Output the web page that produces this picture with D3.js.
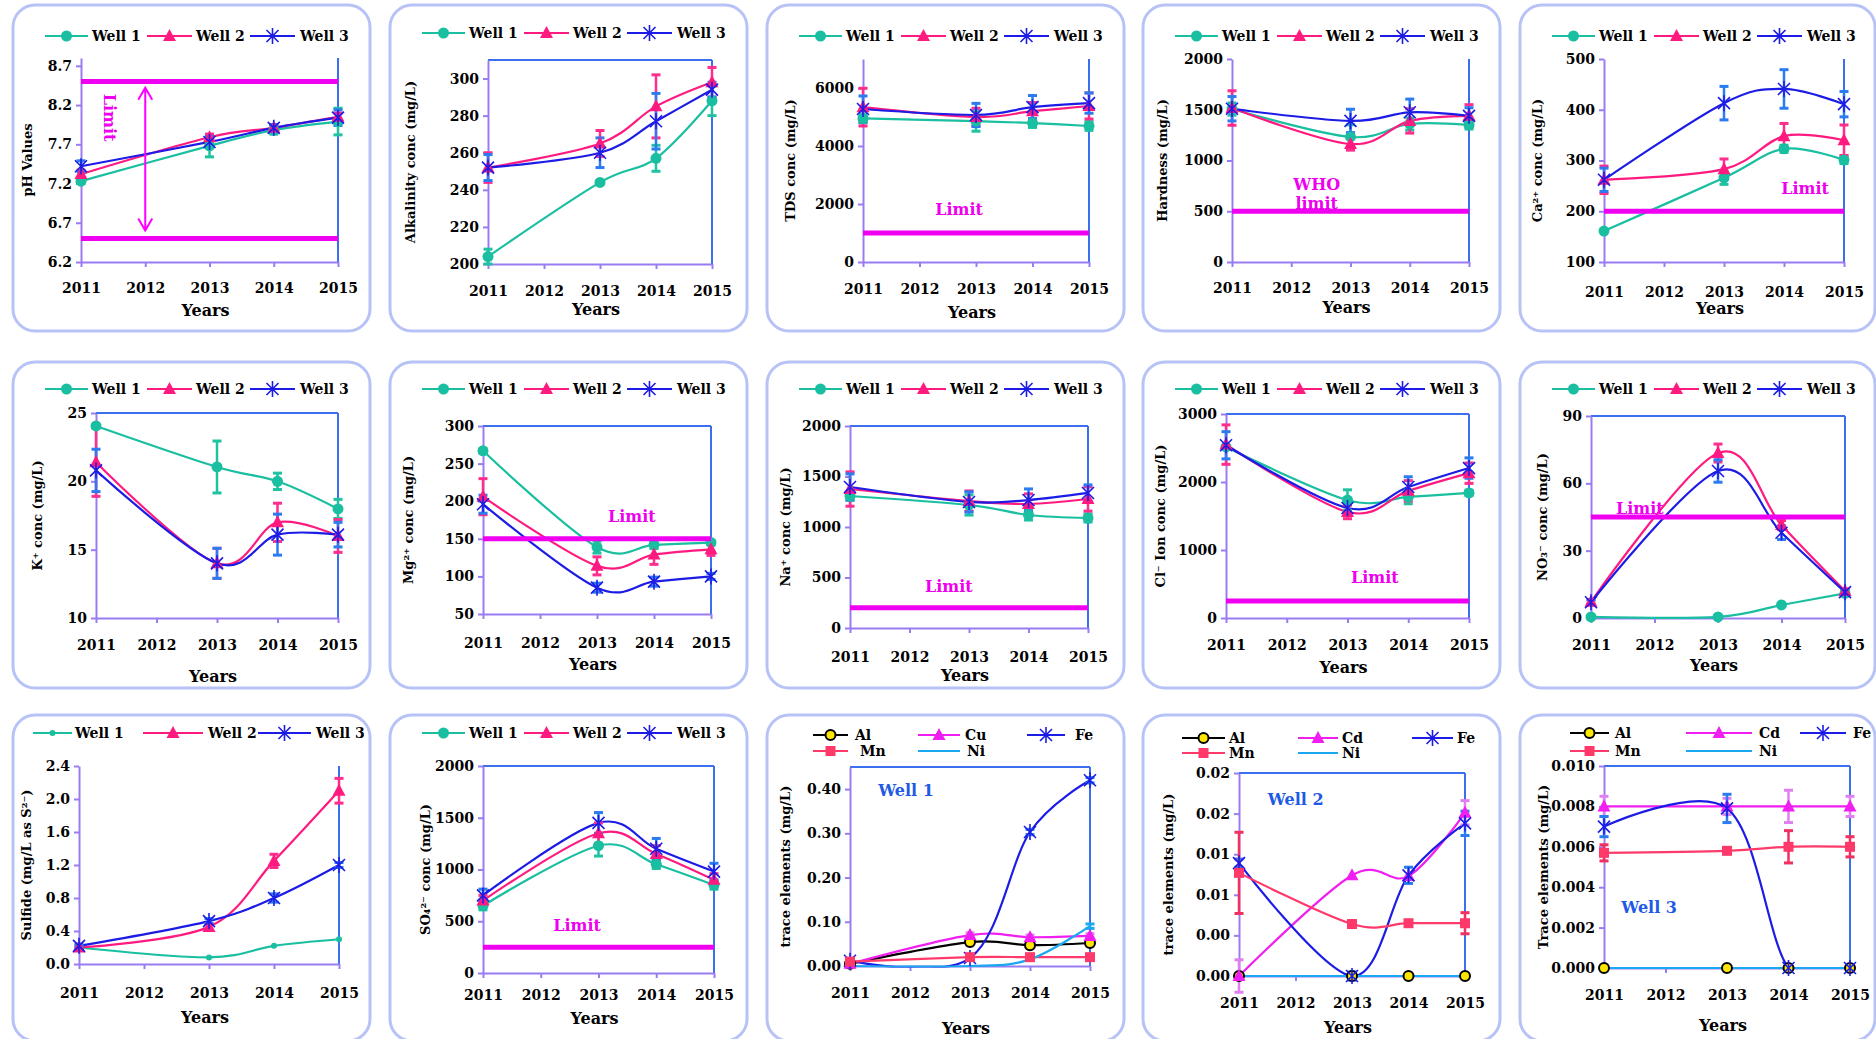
<!DOCTYPE html>
<html>
<head>
<meta charset="utf-8">
<script src="https://cdn.jsdelivr.net/npm/d3@7"></script>
<style>
  body { margin: 0; background: #fff; }
  svg text { font-family: "DejaVu Serif", serif; font-weight: bold; }
</style>
</head>
<body>
<svg id="chart" width="1876" height="1039"></svg>
<script>
// ---- data ----
const years = [2011, 2013, 2014, 2015];
const yearTicks = [2011, 2012, 2013, 2014, 2015];
const wellNames = ["Well 1", "Well 2", "Well 3"];
const traceNamesCu = ["Al", "Cu", "Fe", "Mn", "Ni"];
const traceNamesCd = ["Al", "Cd", "Fe", "Mn", "Ni"];

const phValues = [[7.23, 7.68, 7.88, 7.99], [7.32, 7.79, 7.91, 8.05], [7.42, 7.73, 7.91, 8.04]];
const phErrors = [[0.03, 0.14, 0.05, 0.17], [0.05, 0.04, 0.04, 0.05], [0.07, 0.07, 0.04, 0.1]];
const phTicks = [6.2, 6.7, 7.2, 7.7, 8.2, 8.7];
const phLimits = [6.5, 8.5];

const alkValues = [[204, 244, 257, 288], [252, 265, 285, 298], [252, 260, 277, 294]];
const alkErrors = [[4, 0, 7, 8], [8, 7, 17, 8], [7, 8, 15, 4]];
const alkTicks = [200, 220, 240, 260, 280, 300];

const tdsValues = [[4950, 4860, 4790, 4690], [5340, 5000, 5200, 5380], [5275, 5070, 5340, 5480]];
const tdsErrors = [[150, 350, 150, 150], [650, 300, 300, 450], [450, 400, 400, 350]];
const tdsTicks = [0, 2000, 4000, 6000];
const tdsLimits = [1000];

const hardValues = [[1507, 1232, 1360, 1350], [1517, 1162, 1390, 1440], [1510, 1390, 1475, 1440]];
const hardErrors = [[60, 120, 60, 40], [170, 60, 120, 110], [120, 115, 130, 80]];
const hardTicks = [0, 500, 1000, 1500, 2000];
const hardLimits = [500];

const caValues = [[161, 266, 323, 301], [262, 283, 348, 340], [262, 413, 441, 411]];
const caErrors = [[0, 13, 7, 7], [27, 20, 25, 30], [23, 33, 38, 25]];
const caTicks = [100, 200, 300, 400, 500];
const caLimits = [200];

const kValues = [[24.05, 21.05, 20.0, 17.98], [21.4, 14.0, 17.0, 16.0], [20.8, 14.0, 16.1, 16.1]];
const kErrors = [[0, 1.9, 0.6, 0.7], [2.5, 1.1, 1.4, 1.2], [1.55, 1.1, 1.5, 0.9]];
const kTicks = [10, 15, 20, 25];

const mgValues = [[267, 139, 142, 145], [206, 114, 129, 136], [196, 85, 93, 100]];
const mgErrors = [[3, 8, 5, 3], [24, 12, 13, 8], [12, 6, 6, 4]];
const mgTicks = [50, 100, 150, 200, 250, 300];
const mgLimits = [150];

const naValues = [[1307, 1218, 1119, 1089], [1376, 1257, 1228, 1277], [1396, 1248, 1267, 1337]];
const naErrors = [[40, 100, 50, 40], [170, 100, 100, 120], [130, 100, 110, 80]];
const naTicks = [0, 500, 1000, 1500, 2000];
const naLimits = [200];

const clValues = [[2515, 1735, 1780, 1840], [2550, 1560, 1870, 2130], [2540, 1617, 1927, 2205]];
const clErrors = [[0, 150, 100, 40], [290, 100, 150, 150], [200, 100, 150, 150]];
const clTicks = [0, 1000, 2000, 3000];
const clLimits = [250];

const no3Values = [[0.5, 0.5, 5.8, 11], [7.2, 73.5, 41.4, 12], [7, 65.5, 38, 11.5]];
const no3Errors = [[0, 0, 0, 0], [1, 4, 2, 1], [1, 5, 3, 1]];
const no3Ticks = [0, 30, 60, 90];
const no3Limits = [45];

const sulfValues = [[0.2, 0.08, 0.22, 0.3], [0.2, 0.45, 1.25, 2.1], [0.22, 0.52, 0.8, 1.2]];
const sulfErrors = [[0, 0, 0, 0], [0.02, 0.04, 0.08, 0.15], [0.02, 0.03, 0.05, 0.03]];
const sulfTicks = [0, 0.4, 0.8, 1.2, 1.6, 2.0, 2.4];

const so4Values = [[650, 1230, 1050, 850], [700, 1350, 1150, 900], [750, 1450, 1200, 980]];
const so4Errors = [[40, 100, 40, 40], [50, 100, 80, 60], [60, 100, 100, 80]];
const so4Ticks = [0, 500, 1000, 1500, 2000];
const so4Limits = [250];

// Al, Cu, Fe, Mn, Ni
const trace1Values = [[0.005, 0.054, 0.047, 0.052], [0.005, 0.07, 0.065, 0.068], [0.012, 0.018, 0.303, 0.42], [0.01, 0.02, 0.02, 0.02], [0, 0, 0.015, 0.09]];
const trace1Errors = [[0, 0, 0, 0], [0, 0.005, 0.005, 0.005], [0.004, 0.004, 0.006, 0.006], [0, 0, 0, 0], [0, 0, 0, 0.005]];
const trace1Ticks = [0, 0.1, 0.2, 0.3, 0.4];

// Al, Cd, Fe, Mn, Ni
const trace2Values = [[0, 0, 0, 0], [0, 0.0124, 0.0123, 0.0201], [0.0139, 0, 0.0124, 0.0188], [0.0127, 0.0064, 0.0065, 0.0065], [0, 0, 0, 0]];
const trace2Errors = [[0, 0, 0, 0], [0.002, 0, 0, 0.0015], [0.0005, 0.0005, 0.001, 0.0015], [0.005, 0, 0, 0.0013], [0, 0, 0, 0]];
const trace2Ticks = [0, 0.005, 0.01, 0.015, 0.02, 0.025];
const trace2TickLabels = ["0.00", "0.00", "0.01", "0.01", "0.02", "0.02"];

const trace3Values = [[0, 0, 0, 0], [0.008, 0.008, 0.008, 0.008], [0.007, 0.0079, 0, 0], [0.0057, 0.0058, 0.006, 0.006], [0, 0, 0, 0]];
const trace3Errors = [[0, 0, 0, 0], [0.0005, 0.0004, 0.0008, 0.0005], [0.0005, 0.0007, 0, 0], [0.0004, 0, 0.0008, 0.0005], [0, 0, 0, 0]];
const trace3Ticks = [0, 0.002, 0.004, 0.006, 0.008, 0.01];

// ---- styles ----
var wellStyles = [
    { color: "#19bfa0", err: "#1fc3a0", marker: "circle" },
    { color: "#ff1a80", err: "#ff2d8c", marker: "triangle" },
    { color: "#1c1ce6", err: "#2a7cf0", marker: "star" }
];
var traceStyles = [
    { color: "#000000", err: "#000000", marker: "dot" },
    { color: "#f01ef0", err: "#e080f0", marker: "triangle" },
    { color: "#1c1ce6", err: "#2a7cf0", marker: "star" },
    { color: "#ff3a6a", err: "#f03060", marker: "square" },
    { color: "#1aa8f0", err: "#1aa8f0", marker: null }
];
var limitColor = "#f000f0",
    leftAxisColor = "#9a7cf2",
    rightAxisColor = "#3b6ff0",
    noteBlue = "#1e5ae6";

var wellLegend = [[32, 75, 79, 0], [134, 179, 183, 0], [237, 282, 287, 0]];

function wellSeries(values, errors, styles) {
    return wellNames.map(function (name, i) {
        return { name: name, values: values[i], errors: errors[i], style: (styles || wellStyles)[i] };
    });
}
function traceSeries(names, values, errors) {
    return names.map(function (name, i) {
        return { name: name, values: values[i], errors: errors[i], style: traceStyles[i] };
    });
}

var sulfStyles = [{ color: "#19bfa0", err: "#1fc3a0", marker: "circle", r: 3 }, wellStyles[1], wellStyles[2]];

var panels = [
    { col: 0, row: 0, label: "pH Values", series: wellSeries(phValues, phErrors), domain: [6.2, 8.8], ticks: phTicks, fmt: d3.format(".1f"),
      box: [81, 338, 58, 262], tickDy: 26, yearsDy: 48, titleX: 27, top: false, legendY: 36, limits: phLimits,
      notes: [{ text: "Limit", x: 2011.45, y: 8.04, rotate: 90 }], arrow: { x: 2012, from: 6.6, to: 8.42 } },
    { col: 1, row: 0, label: "Alkalinity conc  (mg/L)", series: wellSeries(alkValues, alkErrors), domain: [200, 310], ticks: alkTicks, fmt: d3.format("d"),
      box: [488, 712, 60, 264], tickDy: 27, yearsDy: 45, titleX: 410, top: true, legendY: 33 },
    { col: 2, row: 0, label: "TDS conc (mg/L)", series: wellSeries(tdsValues, tdsErrors), domain: [0, 7000], ticks: tdsTicks, fmt: d3.format("d"),
      box: [863, 1089, 59, 262], tickDy: 27, yearsDy: 50, titleX: 790, top: false, legendY: 36, limits: tdsLimits,
      notes: [{ text: "Limit", x: 2012.7, y: 1830 }] },
    { col: 3, row: 0, label: "Hardness (mg/L)", series: wellSeries(hardValues, hardErrors), domain: [0, 2000], ticks: hardTicks, fmt: d3.format("d"),
      box: [1232, 1469, 59, 262], tickDy: 26, yearsDy: 45, titleX: 1162, top: false, legendY: 36, limits: hardLimits,
      notes: [{ text: "WHO", x: 2012.43, y: 768 }, { text: "limit", x: 2012.43, y: 581 }] },
    { col: 4, row: 0, label: "Ca²⁺ conc (mg/L)", series: wellSeries(caValues, caErrors), domain: [100, 500], ticks: caTicks, fmt: d3.format("d"),
      box: [1604, 1844, 59, 262], tickDy: 30, yearsDy: 46, titleX: 1537, top: false, legendY: 36, limits: caLimits,
      notes: [{ text: "Limit", x: 2014.35, y: 246 }] },

    { col: 0, row: 1, label: "K⁺ conc  (mg/L)", series: wellSeries(kValues, kErrors), domain: [10, 25], ticks: kTicks, fmt: d3.format("d"),
      box: [96, 338, 413, 618], tickDy: 27, yearsDy: 58, titleX: 37, top: true, legendY: 389 },
    { col: 1, row: 1, label: "Mg²⁺ conc  (mg/L)", series: wellSeries(mgValues, mgErrors), domain: [50, 300], ticks: mgTicks, fmt: d3.format("d"),
      box: [483, 711, 426, 614], tickDy: 29, yearsDy: 50, titleX: 408, top: true, legendY: 389, limits: mgLimits,
      notes: [{ text: "Limit", x: 2013.61, y: 180 }] },
    { col: 2, row: 1, label: "Na⁺ conc  (mg/L)", series: wellSeries(naValues, naErrors), domain: [0, 2000], ticks: naTicks, fmt: d3.format("d"),
      box: [850, 1088, 426, 628], tickDy: 29, yearsDy: 47, titleX: 785, top: true, legendY: 389, limits: naLimits,
      notes: [{ text: "Limit", x: 2012.66, y: 416 }] },
    { col: 3, row: 1, label: "Cl⁻ Ion conc (mg/L)", series: wellSeries(clValues, clErrors), domain: [0, 3000], ticks: clTicks, fmt: d3.format("d"),
      box: [1226, 1469, 414, 618], tickDy: 27, yearsDy: 49, titleX: 1160, top: true, legendY: 389, limits: clLimits,
      notes: [{ text: "Limit", x: 2013.45, y: 603 }] },
    { col: 4, row: 1, label: "NO₃⁻ conc (mg/L)", series: wellSeries(no3Values, no3Errors), domain: [0, 90], ticks: no3Ticks, fmt: d3.format("d"),
      box: [1591, 1845, 416, 618], tickDy: 27, yearsDy: 47, titleX: 1542, top: true, legendY: 389, limits: no3Limits,
      notes: [{ text: "Limit", x: 2011.77, y: 49 }] },

    { col: 0, row: 2, label: "Sulfide (mg/L as S²⁻)", series: wellSeries(sulfValues, sulfErrors, sulfStyles), domain: [0, 2.4], ticks: sulfTicks, fmt: d3.format(".1f"),
      box: [79, 339, 766, 964], tickDy: 29, yearsDy: 53, titleX: 26, top: false, legendY: 733,
      legend: [[20, 59, 62, 0], [130, 190, 195, 0], [245, 298, 303, 0]] },
    { col: 1, row: 2, label: "SO₄²⁻ conc (mg/L)", series: wellSeries(so4Values, so4Errors), domain: [0, 2000], ticks: so4Ticks, fmt: d3.format("d"),
      box: [483, 714, 766, 973], tickDy: 22, yearsDy: 45, titleX: 425, top: true, legendY: 733, limits: so4Limits,
      notes: [{ text: "Limit", x: 2012.63, y: 464 }] },
    { col: 2, row: 2, label: "trace elements  (mg/L)", series: traceSeries(traceNamesCu, trace1Values, trace1Errors), domain: [0, 0.45], ticks: trace1Ticks, fmt: d3.format(".2f"),
      box: [850, 1090, 767, 966], tickDy: 27, yearsDy: 62, titleX: 785, top: true, legendY: 735,
      legend: [[46, 81, 88, 0], [151, 193, 198, 0], [260, 298, 308, 0], [46, 81, 93, 16], [151, 193, 200, 16]],
      notes: [{ text: "Well 1", x: 2011.47, y: 0.398, color: noteBlue, anchor: "start" }] },
    { col: 3, row: 2, label: "trace elements  (mg/L)", series: traceSeries(traceNamesCd, trace2Values, trace2Errors), domain: [0, 0.025], ticks: trace2Ticks, labels: trace2TickLabels,
      box: [1239, 1465, 773, 976], tickDy: 27, yearsDy: 51, titleX: 1168, top: true, legendY: 738,
      legend: [[39, 82, 86, 0], [155, 195, 199, 0], [269, 310, 314, 0], [39, 82, 86, 15], [155, 195, 199, 15]],
      notes: [{ text: "Well 2", x: 2011.51, y: 0.0217, color: noteBlue, anchor: "start" }] },
    { col: 4, row: 2, label: "Trace elements (mg/L)", series: traceSeries(traceNamesCd, trace3Values, trace3Errors), domain: [0, 0.01], ticks: trace3Ticks, fmt: d3.format(".3f"),
      box: [1604, 1850, 766, 968], tickDy: 27, yearsDy: 57, titleX: 1543, top: true, legendY: 733,
      legend: [[50, 89, 95, 0], [166, 232, 239, 0], [280, 326, 333, 0], [50, 89, 95, 18], [166, 232, 239, 18]],
      notes: [{ text: "Well 3", x: 2011.28, y: 0.003, color: noteBlue, anchor: "start" }] }
];

var panelLefts = [13, 390, 767, 1143, 1520],
    panelTops = [5, 362, 715],
    panelW = 357,
    panelH = 326;

var svg = d3.select("#chart");
var defs = svg.append("defs");

function drawMarker(g, st, cx, cy) {
    if (st.marker == "circle") {
        g.append("circle").attr("cx", cx).attr("cy", cy).attr("r", st.r || 5.5).attr("fill", st.color);
    } else if (st.marker == "dot") {
        g.append("circle").attr("cx", cx).attr("cy", cy).attr("r", 5)
            .attr("fill", "#ffe600").attr("stroke", "#000").attr("stroke-width", 2);
    } else if (st.marker == "triangle") {
        g.append("path")
            .attr("d", "M" + cx + "," + (cy - 7) + "L" + (cx + 6.5) + "," + (cy + 5) + "L" + (cx - 6.5) + "," + (cy + 5) + "Z")
            .attr("fill", st.color);
    } else if (st.marker == "square") {
        g.append("rect").attr("x", cx - 5).attr("y", cy - 5).attr("width", 10).attr("height", 10).attr("fill", st.color);
    } else if (st.marker == "star") {
        g.append("path")
            .attr("d", "M" + (cx - 6) + "," + (cy - 6) + "L" + (cx + 6) + "," + (cy + 6) +
                "M" + (cx - 6) + "," + (cy + 6) + "L" + (cx + 6) + "," + (cy - 6) +
                "M" + cx + "," + (cy - 8) + "L" + cx + "," + (cy + 8))
            .attr("stroke", st.color).attr("stroke-width", 1.6).attr("fill", "none");
    }
}

panels.forEach(function (p, pi) {
    var left = panelLefts[p.col],
        top = panelTops[p.row];
    var g = svg.append("g");

    g.append("rect")
        .attr("x", left).attr("y", top)
        .attr("width", p.col == 4 ? panelW - 2 : panelW).attr("height", panelH)
        .attr("rx", 22)
        .attr("fill", "#fff").attr("stroke", "#b7c3f7").attr("stroke-width", 3);

    var x = d3.scaleLinear().domain([2011, 2015]).range([p.box[0], p.box[1]]);
    var y = d3.scaleLinear().domain(p.domain).range([p.box[3], p.box[2]]);

    defs.append("clipPath").attr("id", "clip" + pi)
        .append("rect")
        .attr("x", p.box[0] - 20).attr("y", p.box[2] - 40)
        .attr("width", p.box[1] - p.box[0] + 40).attr("height", p.box[3] - p.box[2] + 41.5);

    // right (and sometimes top) plot border
    g.append("line")
        .attr("x1", p.box[1]).attr("x2", p.box[1]).attr("y1", p.box[2]).attr("y2", p.box[3])
        .attr("stroke", rightAxisColor).attr("stroke-width", 2);
    if (p.top) {
        g.append("line")
            .attr("x1", p.box[0]).attr("x2", p.box[1]).attr("y1", p.box[2]).attr("y2", p.box[2])
            .attr("stroke", rightAxisColor).attr("stroke-width", 2);
    }

    var yAxis = d3.axisLeft(y).tickValues(p.ticks).tickSize(5).tickSizeOuter(0)
        .tickFormat(p.labels ? function (d, i) { return p.labels[i]; } : p.fmt);
    var ya = g.append("g").attr("transform", "translate(" + p.box[0] + ",0)").call(yAxis);
    ya.select(".domain").attr("stroke", leftAxisColor).attr("stroke-width", 2);
    ya.selectAll(".tick line").attr("stroke", leftAxisColor).attr("stroke-width", 2);
    ya.selectAll("text").attr("fill", "#000").attr("x", -9).style("font-size", "14px");

    var xAxis = d3.axisBottom(x).tickValues(yearTicks).tickSize(5).tickSizeOuter(0).tickFormat(d3.format("d"));
    var xa = g.append("g").attr("transform", "translate(0," + p.box[3] + ")").call(xAxis);
    xa.select(".domain").attr("stroke", leftAxisColor).attr("stroke-width", 2);
    xa.selectAll(".tick line").attr("stroke", leftAxisColor).attr("stroke-width", 2);
    xa.selectAll("text").attr("fill", "#000").attr("y", p.tickDy).attr("dy", "0.35em").style("font-size", "14px");

    g.append("text")
        .attr("x", (p.box[0] + p.box[1]) / 2 - 4)
        .attr("y", p.box[3] + p.yearsDy)
        .attr("dy", "0.35em")
        .attr("text-anchor", "middle")
        .style("font-size", "16px")
        .text("Years");

    g.append("text")
        .attr("transform", "translate(" + p.titleX + "," + (p.box[2] + p.box[3]) / 2 + ") rotate(-90)")
        .attr("dy", "0.35em")
        .attr("text-anchor", "middle")
        .style("font-size", "13px")
        .text(p.label);

    // series
    var line = d3.line()
        .x(function (d) { return x(d[0]); })
        .y(function (d) { return y(d[1]); })
        .curve(d3.curveCardinal.tension(0));

    var pointSets = p.series.map(function (s) {
        return years.map(function (yr, i) { return [yr, s.values[i], s.errors[i]]; });
    });

    var lines = g.append("g").attr("clip-path", "url(#clip" + pi + ")");
    p.series.forEach(function (s, k) {
        lines.append("path")
            .attr("d", line(pointSets[k]))
            .attr("fill", "none")
            .attr("stroke", s.style.color)
            .attr("stroke-width", 2.2);
    });

    p.series.forEach(function (s, k) {
        pointSets[k].forEach(function (d) {
            if (!d[2]) return;
            var cx = x(d[0]), y1 = y(d[1] - d[2]), y2 = y(d[1] + d[2]);
            g.append("line").attr("x1", cx).attr("x2", cx).attr("y1", y1).attr("y2", y2)
                .attr("stroke", s.style.err).attr("stroke-width", 2.5);
            [y1, y2].forEach(function (yy) {
                g.append("line").attr("x1", cx - 4.5).attr("x2", cx + 4.5).attr("y1", yy).attr("y2", yy)
                    .attr("stroke", s.style.err).attr("stroke-width", 3);
            });
        });
    });

    p.series.forEach(function (s, k) {
        if (!s.style.marker) return;
        pointSets[k].forEach(function (d) { drawMarker(g, s.style, x(d[0]), y(d[1])); });
    });

    (p.limits || []).forEach(function (v) {
        g.append("line")
            .attr("x1", p.box[0]).attr("x2", p.box[1]).attr("y1", y(v)).attr("y2", y(v))
            .attr("stroke", limitColor).attr("stroke-width", 5);
    });

    if (p.arrow) {
        var ax = x(p.arrow.x), ay1 = y(p.arrow.to), ay2 = y(p.arrow.from);
        g.append("path")
            .attr("d", "M" + ax + "," + ay1 + "L" + ax + "," + ay2 +
                "M" + (ax - 7) + "," + (ay1 + 12) + "L" + ax + "," + ay1 + "L" + (ax + 7) + "," + (ay1 + 12) +
                "M" + (ax - 7) + "," + (ay2 - 12) + "L" + ax + "," + ay2 + "L" + (ax + 7) + "," + (ay2 - 12))
            .attr("fill", "none").attr("stroke", "#ff00ff").attr("stroke-width", 2);
    }

    (p.notes || []).forEach(function (n) {
        var t = g.append("text")
            .attr("dy", "0.35em")
            .attr("text-anchor", n.anchor || "middle")
            .attr("fill", n.color || "#ee00ee")
            .style("font-size", "16px")
            .text(n.text);
        if (n.rotate) {
            t.attr("transform", "translate(" + x(n.x) + "," + y(n.y) + ") rotate(" + n.rotate + ")");
        } else {
            t.attr("x", x(n.x)).attr("y", y(n.y));
        }
    });

    // legend
    var items = p.legend || wellLegend;
    p.series.forEach(function (s, i) {
        var it = items[i];
        var ly = p.legendY + it[3];
        g.append("line")
            .attr("x1", left + it[0]).attr("x2", left + it[1]).attr("y1", ly).attr("y2", ly)
            .attr("stroke", s.style.color).attr("stroke-width", 2.2);
        if (s.style.marker) drawMarker(g, s.style, left + (it[0] + it[1]) / 2, ly);
        g.append("text")
            .attr("x", left + it[2]).attr("y", ly)
            .attr("dy", "0.35em")
            .style("font-size", "14px")
            .text(s.name);
    });
});
</script>
</body>
</html>
